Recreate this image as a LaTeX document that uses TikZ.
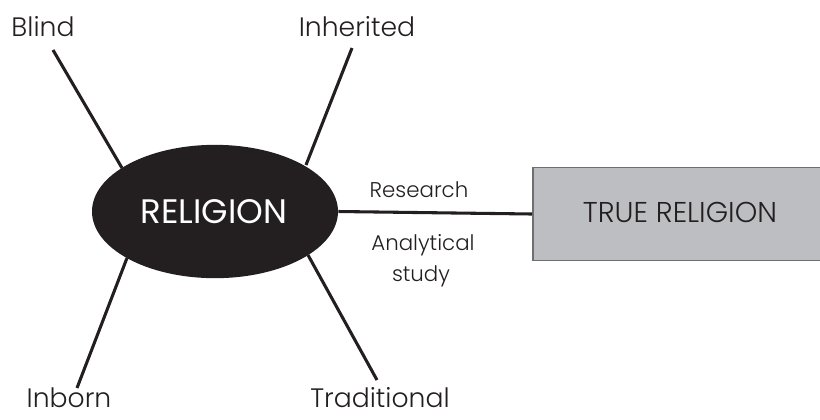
\documentclass[tikz,border=0pt]{standalone}
\usepackage{fontspec}
\setmainfont{Poppins Light}
\newfontfamily\regfont{Poppins}
\usetikzlibrary{shapes.geometric}
\definecolor{ink}{HTML}{231F20}
\definecolor{boxgray}{HTML}{BDBEC2}
\definecolor{boxedge}{HTML}{6D6E71}
\tikzset{
  spoke/.style={line width=2.3pt, draw=ink},
  lbl/.style={font=\fontsize{20}{22}\selectfont, text=ink, inner sep=0pt, anchor=base},
  small/.style={font=\fontsize{16}{18}\selectfont, text=ink, inner sep=0pt, anchor=base},
}
\begin{document}
\begin{tikzpicture}[x=0.75pt,y=-0.75pt]
\useasboundingbox (0,0) rectangle (820,419);
% box
\node[draw=boxedge, line width=1.2pt, fill=boxgray, minimum width=300pt, minimum height=70pt, anchor=west, inner sep=0pt] (tr) at (532,214) {};
\node[font=\fontsize{21.5}{23}\selectfont, text=ink, anchor=base] (trt) at (680,222) {TRUE RELIGION};
% ellipse
\node[ellipse, fill=ink, minimum width=184.5pt, minimum height=100pt, inner sep=0pt] (rel) at (215,211.5) {};
\node[font=\regfont\fontsize{25.5}{27}\selectfont, text=white, anchor=base] (relt) at (214,223) {RELIGION};
% labels
\node[lbl] (blind) at (43,36) {Blind};
\node[lbl] (inh) at (357,36) {Inherited};
\node[lbl] (inb) at (69,407) {Inborn};
\node[lbl] (trad) at (380,407) {Traditional};
\node[small] (res) at (419,197) {Research};
\node[small] (ana) at (423,250) {Analytical};
\node[small] (stu) at (421,281) {study};
% spoke ends
\coordinate (b0) at (53,50);  \coordinate (b1) at (122,168);
\coordinate (i0) at (352,48); \coordinate (i1) at (306,165);
\coordinate (n0) at (77,388); \coordinate (n1) at (127,258);
\coordinate (t0) at (377,380);\coordinate (t1) at (308,255);
\draw[spoke] (b0) -- (b1);
\draw[spoke] (i0) -- (i1);
\draw[spoke] (n0) -- (n1);
\draw[spoke] (t0) -- (t1);
\draw[spoke] (rel.east) -- (tr.west);
\end{tikzpicture}
\end{document}
